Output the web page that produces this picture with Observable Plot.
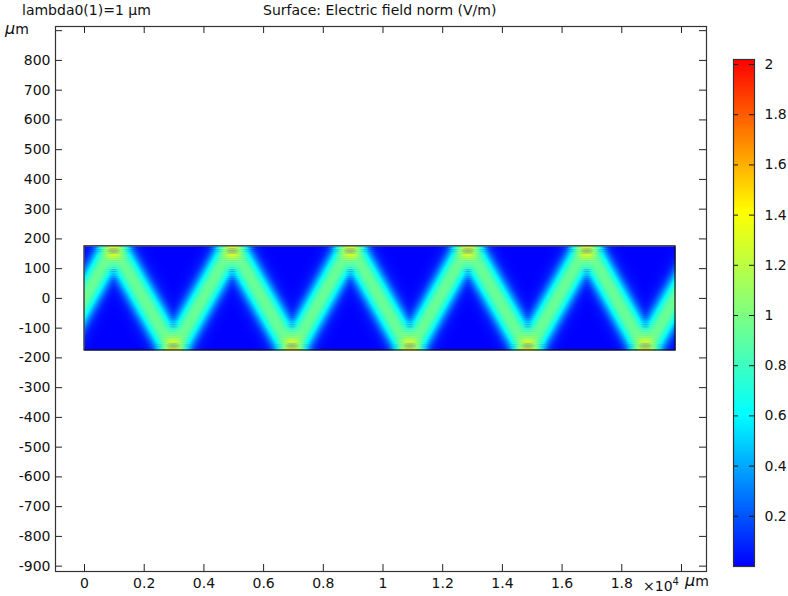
<!DOCTYPE html>
<html><head><meta charset="utf-8">
<script src="https://cdn.jsdelivr.net/npm/d3@7"></script>
<script src="https://cdn.jsdelivr.net/npm/@observablehq/plot@0.6"></script>
<style>
body{margin:0;background:#fff;font-family:"DejaVu Sans",sans-serif;}
#wrap{position:relative;width:788px;height:596px;overflow:hidden;background:#fff}
#wrap svg{position:absolute}
.lbl{position:absolute;font-size:14px;color:#111;white-space:nowrap;line-height:1}
</style></head><body><div id="wrap"></div>
<script>
// ---- data ----
const xTicks = [0, 2000, 4000, 6000, 8000, 10000, 12000, 14000, 16000, 18000, 20000];
const xTickLabels = ["0", "0.2", "0.4", "0.6", "0.8", "1", "1.2", "1.4", "1.6", "1.8", ""];
const yTicks = [900, 800, 700, 600, 500, 400, 300, 200, 100, 0, -100, -200, -300, -400, -500, -600, -700, -800, -900];
const yTickLabels = ["", "800", "700", "600", "500", "400", "300", "200", "100", "0", "-100", "-200", "-300", "-400", "-500", "-600", "-700", "-800", "-900"];
const guideX = [0, 19800];
const guideY = [-175, 175];
// zigzag beam path (vertices where the beam meets the walls)
const beamX = [0, 975, 2975, 4950, 6955, 8905, 10895, 12845, 14850, 16825, 18790, 19800];
const beamY = [0, 175, -175, 175, -175, 175, -175, 175, -175, 175, -175, 0];
// beam cross-section: field norm vs vertical offset from beam centre (µm)
const profileD = [0, 20, 40, 60, 80, 100, 120, 140, 170, 220];
const profileV = [0.95, 0.92, 0.82, 0.66, 0.46, 0.28, 0.14, 0.06, 0.02, 0];
const fringePeriod = 7.5;     // µm, stripes at the wall reflections
const fringeContrast = 0.7;
const colorTicks = [0.2, 0.4, 0.6, 0.8, 1, 1.2, 1.4, 1.6, 1.8, 2];
const colorDomain = [0, 2.02];
const rampStops = [0, 0.3, 0.7, 1];
const rampColors = ["#0000ff", "#00ffff", "#ffff00", "#ff0000"];

// ---- helpers ----
const ramp = d3.scaleLinear().domain(rampStops).range(rampColors).clamp(true);
const profile = d3.scaleLinear().domain(profileD).range(profileV).clamp(true);
const segs = d3.range(beamX.length - 1).map(k => ({
  x0: beamX[k], y0: beamY[k],
  s: (beamY[k + 1] - beamY[k]) / (beamX[k + 1] - beamX[k])
}));
function field(x, y) {
  const A = segs.map(g => profile(Math.abs(y - (g.y0 + g.s * (x - g.x0)))));
  let sum = 0;
  for (const a of A) sum += a * a;
  for (let k = 0; k < A.length - 1; k++) {
    const yw = beamY[k + 1];
    const phi = 2 * Math.PI * Math.abs(yw - y) / fringePeriod;
    sum += 2 * fringeContrast * A[k] * A[k + 1] * Math.cos(phi);
  }
  return Math.sqrt(Math.max(0, sum));
}
const colorOpts = {type: "linear", domain: colorDomain, interpolate: t => ramp(t)};
const font = {fontSize: "14px", fontFamily: "DejaVu Sans", color: "#111", background: "transparent"};

// ---- main plot ----
const W = 788, H = 596, mL = 55, mT = 26, mR = 82, mB = 25;
const fw = W - mL - mR, fh = H - mT - mB;
const main = Plot.plot({
  width: W, height: H,
  marginLeft: mL, marginTop: mT, marginRight: mR, marginBottom: mB,
  style: font,
  x: {domain: [-972, 20838], axis: null},
  y: {domain: [-918, 914], axis: null},
  color: colorOpts,
  marks: [
    Plot.raster({
      x1: guideX[0], x2: guideX[1], y1: guideY[0], y2: guideY[1],
      width: 592, height: 104, fill: field
    }),
    Plot.rect([{a: guideX[0], b: guideX[1], c: guideY[0], d: guideY[1]}],
      {x1: "a", x2: "b", y1: "c", y2: "d", fill: "none", stroke: "#111", strokeWidth: 1.2}),
    Plot.tickY(yTicks, {y: d => d, insetRight: fw - 7, stroke: "#222"}),
    Plot.tickY(yTicks, {y: d => d, insetLeft: fw - 7, stroke: "#222"}),
    Plot.tickX(xTicks, {x: d => d, insetTop: fh - 7, stroke: "#222"}),
    Plot.tickX(xTicks, {x: d => d, insetBottom: fh - 7, stroke: "#222"}),
    Plot.axisY(yTicks, {anchor: "left", tickSize: 0, tickPadding: 5,
      tickFormat: d => yTickLabels[yTicks.indexOf(d)], fill: "#111"}),
    Plot.axisX(xTicks, {anchor: "bottom", tickSize: 0, tickPadding: 7,
      tickFormat: d => xTickLabels[xTicks.indexOf(d)], fill: "#111"}),
    Plot.frame({stroke: "#333", strokeWidth: 1.2})
  ]
});
main.style.left = "0px"; main.style.top = "0px";

// ---- colour bar ----
const cb = Plot.plot({
  width: 88, height: H,
  marginLeft: 33, marginRight: 34, marginTop: 59, marginBottom: 30,
  style: font,
  x: {domain: [0, 1], axis: null},
  y: {domain: colorDomain, axis: null},
  color: colorOpts,
  marks: [
    Plot.raster({x1: 0, x2: 1, y1: colorDomain[0], y2: colorDomain[1], width: 1, height: 300,
      fill: (x, y) => y}),
    Plot.tickY(colorTicks, {y: d => d, insetRight: 16, stroke: "#111"}),
    Plot.tickY(colorTicks, {y: d => d, insetLeft: 16, stroke: "#111"}),
    Plot.axisY(colorTicks, {anchor: "right", tickSize: 0, tickPadding: 10, fill: "#111",
      tickFormat: d => String(d)}),
    Plot.frame({stroke: "#333", strokeWidth: 1.2})
  ]
});
cb.style.left = "700px"; cb.style.top = "0px";

const wrap = document.getElementById("wrap");
wrap.appendChild(main);
wrap.appendChild(cb);

function label(html, left, top, extra) {
  const d = document.createElement("div");
  d.className = "lbl";
  d.innerHTML = html;
  d.style.left = left + "px"; d.style.top = top + "px";
  if (extra) Object.assign(d.style, extra);
  wrap.appendChild(d);
}
label("lambda0(1)=1 µm", 22, 3);
label("Surface: Electric field norm (V/m)", 263, 3);
label('<i style="font-size:16px">µ</i>m', 5, 21);
label('×10<sup style="font-size:10px;vertical-align:6px">4</sup>', 643, 577);
label('<i style="font-size:16px">µ</i>m', 685, 573);
</script></body></html>
